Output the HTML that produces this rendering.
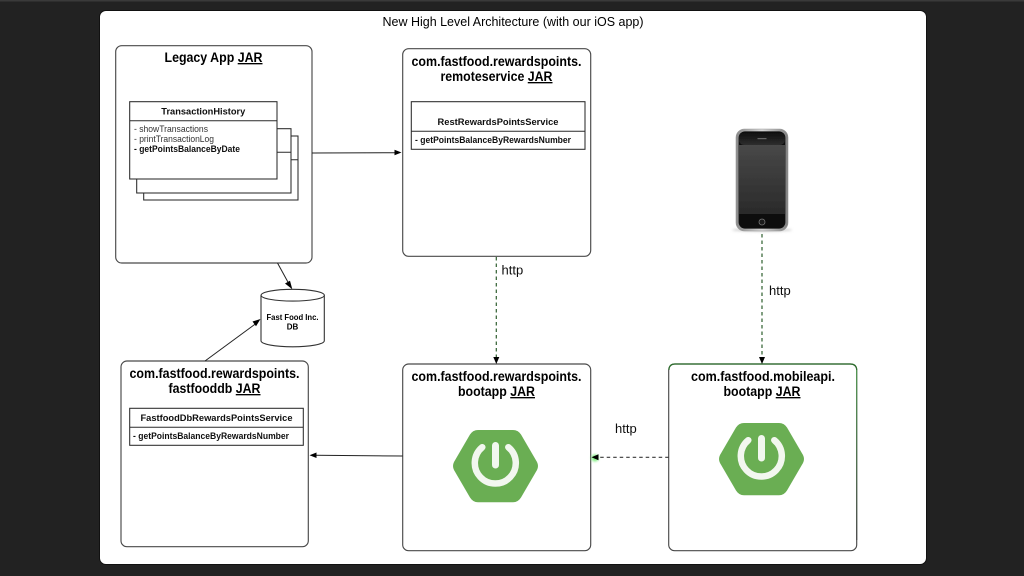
<!DOCTYPE html>
<html>
<head>
<meta charset="utf-8">
<style>
html,body{margin:0;padding:0;width:1024px;height:576px;overflow:hidden;background:#222}
svg{display:block}
text{font-family:"Liberation Sans",Arial,sans-serif;fill:#000}
.t{font-size:13.5px;font-weight:bold;text-anchor:middle;fill:#000}
.m{font-size:9px;font-weight:bold;text-anchor:middle;fill:#111}
.s{font-size:8.8px;fill:#333}
.b{font-size:8.8px;font-weight:bold;fill:#111}
.h{font-size:13px;fill:#111}
.box{fill:#fff;stroke:#4a4a4a;stroke-width:1.15}
.in{fill:#fff;stroke:#2a2a2a;stroke-width:1.05}
.dash{stroke:#2f5f2f;stroke-width:1.2;stroke-dasharray:3.5 3;fill:none}
</style>
</head>
<body>
<svg width="1024" height="576" viewBox="0 0 1024 576" xmlns="http://www.w3.org/2000/svg">
<defs>
<filter id="soft" x="-5%" y="-5%" width="110%" height="110%"><feGaussianBlur stdDeviation="0.36"/></filter>
<filter id="glow" x="-100%" y="-100%" width="300%" height="300%"><feGaussianBlur stdDeviation="1.3"/></filter>
<linearGradient id="scr" x1="0" y1="0" x2="0" y2="1"><stop offset="0" stop-color="#484848"/><stop offset="1" stop-color="#2a2a2a"/></linearGradient>
<linearGradient id="rim" x1="0" y1="0" x2="1" y2="0"><stop offset="0" stop-color="#8a8a8a"/><stop offset="0.5" stop-color="#d4d4d4"/><stop offset="1" stop-color="#808080"/></linearGradient>
<linearGradient id="top" x1="0" y1="0" x2="0" y2="1"><stop offset="0" stop-color="#0e0e0e"/><stop offset="1" stop-color="#2e2e2e"/></linearGradient>
<linearGradient id="side" x1="0" y1="0" x2="0" y2="1"><stop offset="0" stop-color="#4f9a4f"/><stop offset="1" stop-color="#4a4a4a"/></linearGradient>
</defs>
<rect width="1024" height="576" fill="#222"/>
<rect x="0" y="0" width="1024" height="1.5" fill="#3a3a3a"/>
<rect x="99" y="10" width="828" height="555" rx="7" fill="#111"/>
<rect x="100" y="11" width="826" height="553" rx="6" fill="#fff"/>
<g filter="url(#soft)">
<text x="513" y="26" font-size="12.8" text-anchor="middle" textLength="261" lengthAdjust="spacingAndGlyphs">New High Level Architecture (with our iOS app)</text>

<!-- Legacy -->
<rect class="box" x="115.7" y="45.7" width="196.3" height="217.3" rx="6"/>
<text class="t" x="213.5" y="62" textLength="98" lengthAdjust="spacingAndGlyphs">Legacy App <tspan text-decoration="underline">JAR</tspan></text>
<rect class="in" x="143.7" y="136" width="154.3" height="64"/>
<line x1="143.7" y1="159.7" x2="298" y2="159.7" stroke="#2a2a2a"/>
<rect class="in" x="136.7" y="128.7" width="154.3" height="64.3"/>
<line x1="136.7" y1="152.3" x2="291" y2="152.3" stroke="#2a2a2a"/>
<rect class="in" x="129.7" y="101.7" width="147.3" height="77.3"/>
<line x1="129.7" y1="120.7" x2="277" y2="120.7" stroke="#2a2a2a"/>
<text class="m" x="203.3" y="114.5" textLength="84" lengthAdjust="spacingAndGlyphs">TransactionHistory</text>
<text class="s" x="134" y="132" textLength="74" lengthAdjust="spacingAndGlyphs">- showTransactions</text>
<text class="s" x="134" y="142" textLength="80" lengthAdjust="spacingAndGlyphs">- printTransactionLog</text>
<text class="b" x="134" y="152" textLength="106" lengthAdjust="spacingAndGlyphs">- getPointsBalanceByDate</text>

<!-- Remote service -->
<rect class="box" x="402.7" y="48.7" width="188" height="207.6" rx="6"/>
<text class="t" x="496.5" y="66" textLength="170" lengthAdjust="spacingAndGlyphs">com.fastfood.rewardspoints.</text>
<text class="t" x="496.5" y="81" textLength="112" lengthAdjust="spacingAndGlyphs">remoteservice <tspan text-decoration="underline">JAR</tspan></text>
<rect class="in" x="411.3" y="101.7" width="173.7" height="47.6"/>
<line x1="411.3" y1="131.3" x2="585" y2="131.3" stroke="#2a2a2a"/>
<text class="m" x="498" y="125" textLength="121" lengthAdjust="spacingAndGlyphs">RestRewardsPointsService</text>
<text class="b" x="415" y="143" textLength="156" lengthAdjust="spacingAndGlyphs">- getPointsBalanceByRewardsNumber</text>

<!-- Fast food db box -->
<rect class="box" x="121" y="361" width="187.3" height="185.7" rx="6"/>
<text class="t" x="214.5" y="378" textLength="170" lengthAdjust="spacingAndGlyphs">com.fastfood.rewardspoints.</text>
<text class="t" x="214.5" y="393" textLength="92" lengthAdjust="spacingAndGlyphs">fastfooddb <tspan text-decoration="underline">JAR</tspan></text>
<rect class="in" x="129.7" y="408.3" width="173.6" height="37"/>
<line x1="129.7" y1="427.3" x2="303.3" y2="427.3" stroke="#2a2a2a"/>
<text class="m" x="216.5" y="421" textLength="152" lengthAdjust="spacingAndGlyphs">FastfoodDbRewardsPointsService</text>
<text class="b" x="133" y="439" textLength="156" lengthAdjust="spacingAndGlyphs">- getPointsBalanceByRewardsNumber</text>

<!-- Cylinder -->
<path d="M261 295.2 V340.8 C261 344.2 275 346.8 292.7 346.8 C310.3 346.8 324.3 344.2 324.3 340.8 V295.2" fill="#fff" stroke="#333" stroke-width="1.1"/>
<ellipse cx="292.7" cy="295.2" rx="31.6" ry="5.9" fill="#fff" stroke="#333" stroke-width="1.1"/>
<text x="292.5" y="320" font-size="8" font-weight="bold" text-anchor="middle" fill="#222" textLength="52" lengthAdjust="spacingAndGlyphs">Fast Food Inc.</text>
<text x="292.5" y="329.5" font-size="8" font-weight="bold" text-anchor="middle" fill="#222">DB</text>

<!-- Boot app -->
<rect class="box" x="402.7" y="364" width="188" height="186.7" rx="6"/>
<text class="t" x="496.5" y="381" textLength="170" lengthAdjust="spacingAndGlyphs">com.fastfood.rewardspoints.</text>
<text class="t" x="496.5" y="396" textLength="77" lengthAdjust="spacingAndGlyphs">bootapp <tspan text-decoration="underline">JAR</tspan></text>

<!-- Mobile api -->
<rect class="box" x="668.7" y="364" width="188" height="186.7" rx="6"/>
<path d="M672 365.5 H853" stroke="#8df08d" stroke-width="3" fill="none" filter="url(#glow)"/>
<rect x="856.1" y="370" width="1.15" height="170" fill="url(#side)"/>
<path d="M669 370 Q669 364 675 364 H850 Q856.7 364 856.7 370" stroke="#2f6f2f" stroke-width="1.2" fill="none"/>
<text class="t" x="763" y="381" textLength="144" lengthAdjust="spacingAndGlyphs">com.fastfood.mobileapi.</text>
<text class="t" x="762" y="396" textLength="77" lengthAdjust="spacingAndGlyphs">bootapp <tspan text-decoration="underline">JAR</tspan></text>

<!-- Spring hexagons -->
<g>
<path d="M478 430 H513 Q518 430 521 434.5 L537 462 Q539 466 537 470 L521 497.5 Q518 502.3 513 502.3 H478 Q473 502.3 470 497.5 L454 470 Q452 466 454 462 L470 434.5 Q473 430 478 430 Z" fill="#6aae52"/>
<path d="M482.3 447.2 A20.5 20.5 0 1 0 508.3 447.2" fill="none" stroke="#f2f7ef" stroke-width="6.5" stroke-linecap="round"/>
<line x1="495.5" y1="445.5" x2="495.5" y2="465" stroke="#f2f7ef" stroke-width="7" stroke-linecap="round"/>
</g>
<g transform="translate(266 -7)">
<path d="M478 430 H513 Q518 430 521 434.5 L537 462 Q539 466 537 470 L521 497.5 Q518 502.3 513 502.3 H478 Q473 502.3 470 497.5 L454 470 Q452 466 454 462 L470 434.5 Q473 430 478 430 Z" fill="#6aae52"/>
<path d="M482.3 447.2 A20.5 20.5 0 1 0 508.3 447.2" fill="none" stroke="#f2f7ef" stroke-width="6.5" stroke-linecap="round"/>
<line x1="495.5" y1="445.5" x2="495.5" y2="465" stroke="#f2f7ef" stroke-width="7" stroke-linecap="round"/>
</g>

<!-- Solid connectors -->
<line x1="312" y1="153" x2="396" y2="152.7" stroke="#222" stroke-width="1"/>
<path d="M401.5 152.5 L394.5 149.8 V155.2 Z" fill="#000"/>
<line x1="277.5" y1="263" x2="289" y2="284" stroke="#222" stroke-width="1"/>
<path d="M292.3 289.2 L285 283.5 L290 280.8 Z" fill="#000"/>
<line x1="205" y1="361" x2="256" y2="323.5" stroke="#222" stroke-width="1"/>
<path d="M260.5 319 L252.5 321.5 L256 326.3 Z" fill="#000"/>
<line x1="402.7" y1="456" x2="315" y2="455.3" stroke="#222" stroke-width="1"/>
<path d="M309.5 455.2 L316.5 452.5 V458 Z" fill="#000"/>

<!-- Dashed connectors -->
<line class="dash" x1="496.3" y1="257" x2="496.3" y2="358"/>
<path d="M496.3 364 L493.3 357 H499.3 Z" fill="#000"/>
<line class="dash" x1="762" y1="234" x2="762" y2="358"/>
<path d="M762 364 L759 357 H765 Z" fill="#000"/>
<line class="dash" x1="668.7" y1="457.3" x2="598" y2="457.3" style="stroke:#3a3a3a"/>
<ellipse cx="595" cy="458" rx="3.5" ry="3.5" fill="#7df07d" filter="url(#glow)"/>
<path d="M591.5 457.3 L598.5 454.3 V460.3 Z" fill="#000"/>

<text class="h" x="501.5" y="274.5">http</text>
<text class="h" x="769" y="295">http</text>
<text class="h" x="615" y="433">http</text>

<!-- Phone -->
<ellipse cx="762" cy="230" rx="30" ry="1.6" fill="#ccc" filter="url(#glow)"/>
<rect x="736" y="129" width="52" height="102" rx="8.5" fill="url(#rim)" stroke="#999" stroke-width="0.6"/>
<rect x="738.6" y="131.4" width="46.8" height="97.2" rx="6.5" fill="#0e0e0e"/>
<rect x="739" y="132" width="46" height="13" rx="5" fill="url(#top)"/>
<rect x="739" y="145" width="46" height="69" fill="url(#scr)"/>
<rect x="757.5" y="138" width="9" height="1.2" fill="#666"/>
<circle cx="762" cy="222" r="3" fill="#1c1c1c" stroke="#777" stroke-width="0.8"/>
</g>
</svg>
</body>
</html>
